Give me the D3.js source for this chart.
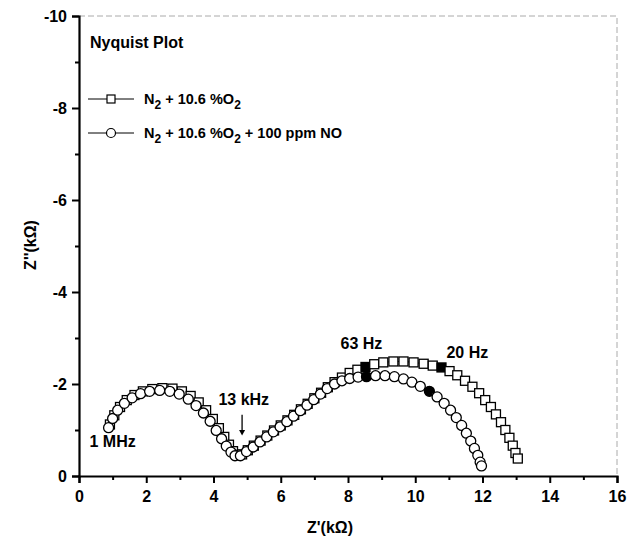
<!DOCTYPE html>
<html>
<head>
<meta charset="utf-8">
<script src="https://cdn.jsdelivr.net/npm/d3@7"></script>
<style>
  body { margin: 0; background: #fff; }
  text { font-family: "Liberation Sans", Arial, sans-serif; font-weight: bold; fill: #000; }
</style>
</head>
<body>
<div id="chart"></div>
<script>
// Z' (kOhm) and Z'' (kOhm)
const zReO2 = [0.92, 1.05, 1.22, 1.42, 1.65, 1.9, 2.18, 2.48, 2.78, 3.06, 3.32, 3.56, 3.78, 3.98, 4.16, 4.32, 4.46, 4.58, 4.7,
  4.85, 5.02, 5.2, 5.4, 5.6, 5.8, 6.0, 6.2, 6.4, 6.6, 6.8, 7.0, 7.2, 7.4, 7.6, 7.82, 8.05, 8.28, 8.52, 8.78, 9.05, 9.35, 9.65,
  9.95, 10.25, 10.52, 10.78, 11.02, 11.25, 11.48, 11.7, 11.9, 12.08, 12.25, 12.4, 12.55, 12.68, 12.8, 12.9, 12.98, 13.05];
const zImO2 = [-1.12, -1.32, -1.5, -1.65, -1.76, -1.84, -1.89, -1.91, -1.9, -1.84, -1.74, -1.6, -1.43, -1.24, -1.04, -0.85, -0.68, -0.54, -0.46,
  -0.47, -0.56, -0.66, -0.77, -0.88, -0.99, -1.1, -1.21, -1.33, -1.45, -1.57, -1.69, -1.81, -1.93, -2.04, -2.14, -2.24, -2.31, -2.37, -2.43, -2.47, -2.49, -2.49,
  -2.47, -2.44, -2.4, -2.36, -2.28, -2.19, -2.07, -1.94, -1.8, -1.65, -1.5, -1.34, -1.17, -1.0, -0.83, -0.66, -0.5, -0.38];
const filledO2 = [37, 45];

const zReNO = [0.88, 1.0, 1.15, 1.35, 1.58, 1.83, 2.1, 2.4, 2.7, 2.98, 3.25, 3.48, 3.7, 3.9, 4.08, 4.24, 4.38, 4.52, 4.64,
  4.8, 4.98, 5.18, 5.38, 5.58, 5.78, 5.98, 6.18, 6.38, 6.58, 6.78, 6.98, 7.18, 7.38, 7.6, 7.82, 8.05, 8.3, 8.55, 8.82, 9.1,
  9.38, 9.65, 9.9, 10.15, 10.42, 10.65, 10.86, 11.05, 11.22, 11.38, 11.52, 11.65, 11.76, 11.86, 11.93, 11.97];
const zImNO = [-1.05, -1.25, -1.43, -1.58, -1.7, -1.79, -1.84, -1.86, -1.84, -1.78, -1.67, -1.53, -1.37, -1.19, -0.99, -0.81, -0.65, -0.52, -0.44,
  -0.44, -0.53, -0.63, -0.74, -0.85, -0.96, -1.07, -1.18, -1.3, -1.42, -1.54, -1.66, -1.78, -1.9, -2.0, -2.07, -2.12, -2.15, -2.16, -2.18, -2.18,
  -2.16, -2.11, -2.04, -1.95, -1.84, -1.72, -1.58, -1.43, -1.27, -1.1, -0.93, -0.76, -0.6, -0.45, -0.3, -0.22];
const filledNO = [37, 44];

const xTicks = [0, 2, 4, 6, 8, 10, 12, 14, 16];
const yTicks = [0, -2, -4, -6, -8, -10];

const width = 630, height = 550;
const margin = {top: 16, right: 13, bottom: 74, left: 79};

const svg = d3.select('#chart').append('svg')
  .attr('width', width)
  .attr('height', height);

const x = d3.scaleLinear().domain([0, 16]).range([margin.left, width - margin.right]);
const y = d3.scaleLinear().domain([0, -10]).range([height - margin.bottom, margin.top]);

// faint top/right frame
svg.append('path')
  .attr('d', `M${x(0)},${y(-10)}H${x(16)}V${y(0)}`)
  .attr('fill', 'none')
  .attr('stroke', '#aaa')
  .attr('stroke-width', 1)
  .attr('stroke-dasharray', '6,3');

// axes (hyphen minus like the original)
const fmt = d => String(d);
svg.append('g')
  .attr('transform', `translate(0,${y(0)})`)
  .call(d3.axisBottom(x).tickValues(xTicks).tickFormat(fmt).tickSize(7).tickPadding(8));
svg.append('g')
  .attr('transform', `translate(0,${y(0)})`)
  .call(d3.axisBottom(x).tickValues(d3.range(1, 16, 2)).tickFormat('').tickSize(4))
  .select('.domain').remove();

const yAxis = svg.append('g')
  .attr('transform', `translate(${x(0)},0)`)
  .call(d3.axisLeft(y).tickValues(yTicks).tickFormat(fmt).tickSize(7).tickPadding(5));
svg.append('g')
  .attr('transform', `translate(${x(0)},0)`)
  .call(d3.axisLeft(y).tickValues(d3.range(-1, -10, -2)).tickFormat('').tickSize(4))
  .select('.domain').remove();

svg.selectAll('.domain').attr('stroke-width', 2.2);
svg.selectAll('.tick line').attr('stroke-width', 2);
svg.selectAll('.tick text').style('font-size', '16px').style('font-weight', 'bold')
  .style('font-family', '"Liberation Sans", Arial, sans-serif');

// axis titles
svg.append('text')
  .attr('x', 330).attr('y', 533)
  .attr('text-anchor', 'middle')
  .style('font-size', '16px')
  .text("Z'(kΩ)");
svg.append('text')
  .attr('transform', 'translate(36,245) rotate(-90)')
  .attr('text-anchor', 'middle')
  .style('font-size', '16px')
  .text("Z''(kΩ)");

// series
const lineGen = d3.line().x(d => x(d[0])).y(d => y(d[1]));
const ptsO2 = zReO2.map((v, i) => [v, zImO2[i], filledO2.includes(i)]);
const ptsNO = zReNO.map((v, i) => [v, zImNO[i], filledNO.includes(i)]);

[ptsO2, ptsNO].forEach(pts => {
  svg.append('path')
    .datum(pts)
    .attr('d', lineGen)
    .attr('fill', 'none')
    .attr('stroke', '#000')
    .attr('stroke-width', 1);
});

svg.append('g').selectAll('rect')
  .data(ptsO2)
  .join('rect')
  .attr('x', d => x(d[0]) - 4.5)
  .attr('y', d => y(d[1]) - 4.5)
  .attr('width', 9)
  .attr('height', 9)
  .attr('fill', d => d[2] ? '#000' : '#fff')
  .attr('stroke', '#000')
  .attr('stroke-width', 1.3);

svg.append('g').selectAll('circle')
  .data(ptsNO)
  .join('circle')
  .attr('cx', d => x(d[0]))
  .attr('cy', d => y(d[1]))
  .attr('r', 5)
  .attr('fill', d => d[2] ? '#000' : '#fff')
  .attr('stroke', '#000')
  .attr('stroke-width', 1.3);

// annotations
const notes = [
  {t: '1 MHz', zr: 1.0, zi: -0.63},
  {t: '13 kHz', zr: 4.9, zi: -1.55},
  {t: '63 Hz', zr: 8.4, zi: -2.77},
  {t: '20 Hz', zr: 11.55, zi: -2.57}
];
svg.append('g').selectAll('text')
  .data(notes)
  .join('text')
  .attr('x', d => x(d.zr))
  .attr('y', d => y(d.zi))
  .attr('text-anchor', 'middle')
  .style('font-size', '16px')
  .text(d => d.t);

svg.append('line')
  .attr('x1', x(4.85)).attr('x2', x(4.85))
  .attr('y1', y(-1.33)).attr('y2', y(-0.95))
  .attr('stroke', '#000').attr('stroke-width', 1.3);
svg.append('path')
  .attr('d', `M${x(4.85) - 3},${y(-1.0)}L${x(4.85) + 3},${y(-1.0)}L${x(4.85)},${y(-0.88)}Z`)
  .attr('fill', '#000');

// title and legend
svg.append('text')
  .attr('x', 90).attr('y', 48)
  .style('font-size', '16px')
  .text('Nyquist Plot');

const legend = svg.append('g');
const legRows = [
  {y: 99, mark: 'rect', label: ['N', '2', ' + 10.6 %O', '2']},
  {y: 133, mark: 'circle', label: ['N', '2', ' + 10.6 %O', '2', ' + 100 ppm NO']}
];
legRows.forEach(r => {
  legend.append('line')
    .attr('x1', 88).attr('x2', 134).attr('y1', r.y).attr('y2', r.y)
    .attr('stroke', '#000').attr('stroke-width', 1);
  if (r.mark === 'rect') {
    legend.append('rect').attr('x', 107).attr('y', r.y - 4).attr('width', 8).attr('height', 8)
      .attr('fill', '#fff').attr('stroke', '#000').attr('stroke-width', 1.2);
  } else {
    legend.append('circle').attr('cx', 111).attr('cy', r.y).attr('r', 4.5)
      .attr('fill', '#fff').attr('stroke', '#000').attr('stroke-width', 1.2);
  }
  const t = legend.append('text').attr('x', 144).attr('y', r.y + 5).style('font-size', '14.5px');
  r.label.forEach((s, i) => {
    const ts = t.append('tspan').text(s);
    if (s === '2') ts.attr('dy', 5).style('font-size', '12px');
    else if (i > 0) ts.attr('dy', -5);
  });
});
</script>
</body>
</html>
